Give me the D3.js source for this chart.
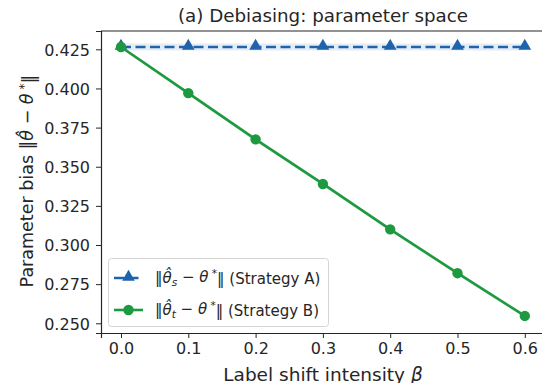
<!DOCTYPE html>
<html>
<head>
<meta charset="utf-8">
<script src="https://cdn.jsdelivr.net/npm/d3@7"></script>
<style>
  body { margin: 0; background: #fff; }
  svg { font-family: "DejaVu Sans", sans-serif; display: block; }
</style>
</head>
<body>
<svg width="542" height="383"></svg>
<script>
const betas = [0.0, 0.1, 0.2, 0.3, 0.4, 0.5, 0.6];
const biasA = [0.4265, 0.4265, 0.4265, 0.4265, 0.4265, 0.4265, 0.4265];
const biasB = [0.4265, 0.3970, 0.3675, 0.3390, 0.3100, 0.2820, 0.2547];
const spreadA = [0.0022, 0.0022, 0.0022, 0.0022, 0.0022, 0.0022, 0.0022];
const spreadB = [0.0012, 0.0012, 0.0012, 0.0012, 0.0012, 0.0012, 0.0012];
const xTicks = [0.0, 0.1, 0.2, 0.3, 0.4, 0.5, 0.6];
const yTicks = [0.250, 0.275, 0.300, 0.325, 0.350, 0.375, 0.400, 0.425];

const svg = d3.select("svg");
const margin = { top: 31, left: 101, bottom: 333, right: 545 };

const x = d3.scaleLinear().domain([-0.0297, 0.63]).range([margin.left, margin.right]);
const y = d3.scaleLinear().domain([0.2438, 0.4367]).range([margin.bottom, margin.top]);

const blue = "#2063ad";
const green = "#1d9a3f";

const rowsA = betas.map((b, i) => ({ b, v: biasA[i], s: spreadA[i] }));
const rowsB = betas.map((b, i) => ({ b, v: biasB[i], s: spreadB[i] }));

const area = d3.area()
  .x(d => x(d.b))
  .y0(d => y(d.v - d.s))
  .y1(d => y(d.v + d.s));
const line = d3.line().x(d => x(d.b)).y(d => y(d.v));

const plot = svg.append("g");

// bands
plot.append("path").datum(rowsA).attr("d", area).attr("fill", blue).attr("opacity", 0.12);
plot.append("path").datum(rowsB).attr("d", area).attr("fill", green).attr("opacity", 0.12);

// strategy A
plot.append("path").datum(rowsA).attr("d", line)
  .attr("fill", "none").attr("stroke", blue).attr("stroke-width", 2.6)
  .attr("stroke-dasharray", "10,4.5");
const tri = d3.symbol().type(d3.symbolTriangle).size(70);
plot.selectAll(".triA").data(rowsA).enter().append("path")
  .attr("d", tri)
  .attr("transform", d => `translate(${x(d.b)},${y(d.v) - 1})`)
  .attr("fill", blue);

// strategy B
plot.append("path").datum(rowsB).attr("d", line)
  .attr("fill", "none").attr("stroke", green).attr("stroke-width", 2.6);
plot.selectAll(".dotB").data(rowsB).enter().append("circle")
  .attr("cx", d => x(d.b)).attr("cy", d => y(d.v)).attr("r", 5.2)
  .attr("fill", green);

// axes
const xAxis = svg.append("g")
  .attr("transform", `translate(0,${margin.bottom})`)
  .call(d3.axisBottom(x).tickValues(xTicks).tickFormat(d3.format(".1f")).tickSizeOuter(0).tickSize(5).tickPadding(4));
const yAxis = svg.append("g")
  .attr("transform", `translate(${margin.left},0)`)
  .call(d3.axisLeft(y).tickValues(yTicks).tickFormat(d3.format(".3f")).tickSizeOuter(0).tickSize(5).tickPadding(6));
[xAxis, yAxis].forEach(a => {
  a.selectAll("text").attr("font-size", 16).attr("fill", "#262626").attr("font-family", "DejaVu Sans");
  a.selectAll("line").attr("stroke", "#262626").attr("stroke-width", 1);
  a.select(".domain").attr("stroke", "#262626").attr("stroke-width", 1.2);
});
yAxis.selectAll("text").attr("dy", "0.36em");
xAxis.selectAll("text").attr("dy", "0.74em");

// top spine
svg.append("line")
  .attr("x1", margin.left).attr("x2", margin.right)
  .attr("y1", margin.top).attr("y2", margin.top)
  .attr("stroke", "#262626").attr("stroke-width", 1.2);

// title
svg.append("text")
  .attr("x", 323).attr("y", 22)
  .attr("text-anchor", "middle").attr("font-size", 18.3).attr("fill", "#262626")
  .text("(a) Debiasing: parameter space");

// x label
const xl = svg.append("text")
  .attr("x", 323).attr("y", 381)
  .attr("text-anchor", "middle").attr("font-size", 18.5).attr("fill", "#262626");
xl.append("tspan").text("Label shift intensity ");
xl.append("tspan").attr("font-style", "italic").text("β");

// math helper: ‖θ̂_sub − θ*‖
function normText(sel, sub) {
  sel.append("tspan").text("‖");
  sel.append("tspan").attr("font-style", "italic").text("θ\u0302");
  if (sub) {
    sel.append("tspan").attr("font-style", "italic").attr("font-size", "0.7em").attr("dy", "0.25em").text(sub);
    sel.append("tspan").attr("dy", "-0.25em").text(" − ");
  } else {
    sel.append("tspan").text(" − ");
  }
  sel.append("tspan").attr("font-style", "italic").text("θ");
  sel.append("tspan").attr("font-size", "0.7em").attr("dy", "-0.45em").text(" *");
  sel.append("tspan").attr("dy", "0.45em").text("‖");
}

// y label
const yl = svg.append("text")
  .attr("transform", "translate(33,181) rotate(-90)")
  .attr("text-anchor", "middle").attr("font-size", 17.5).attr("fill", "#262626");
yl.append("tspan").text("Parameter bias ");
normText(yl, null);

// legend
const leg = svg.append("g");
leg.append("rect")
  .attr("x", 108.5).attr("y", 258.5).attr("width", 220).attr("height", 68)
  .attr("rx", 3).attr("fill", "#fff").attr("fill-opacity", 0.8)
  .attr("stroke", "#d5d5d5").attr("stroke-width", 1);
const legItems = [
  { sub: "s", label: " (Strategy A)", color: blue, dash: "10,4.5", mark: "tri", y: 278 },
  { sub: "t", label: " (Strategy B)", color: green, dash: null, mark: "dot", y: 310 }
];
legItems.forEach(it => {
  leg.append("line")
    .attr("x1", 114).attr("x2", 143).attr("y1", it.y).attr("y2", it.y)
    .attr("stroke", it.color).attr("stroke-width", 2.6)
    .attr("stroke-dasharray", it.dash);
  if (it.mark === "tri") {
    leg.append("path").attr("d", tri).attr("transform", `translate(128.5,${it.y - 1})`).attr("fill", it.color);
  } else {
    leg.append("circle").attr("cx", 128.5).attr("cy", it.y).attr("r", 5.2).attr("fill", it.color);
  }
  const t = leg.append("text")
    .attr("x", 155).attr("y", it.y + 5)
    .attr("font-size", 15).attr("fill", "#262626");
  normText(t, it.sub);
  t.append("tspan").text(it.label);
});
</script>
</body>
</html>
